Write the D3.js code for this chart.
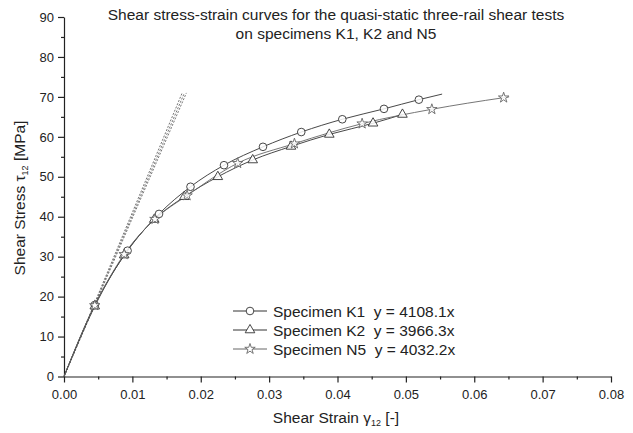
<!DOCTYPE html>
<html><head><meta charset="utf-8">
<script src="https://cdn.jsdelivr.net/npm/d3@7"></script>
<style>body{margin:0;background:#fff}svg{display:block;font-family:"Liberation Sans",Arial,sans-serif}</style>
</head><body><svg id="c" width="633" height="433"></svg>
<script>
const titleLines = ["Shear stress-strain curves for the quasi-static three-rail shear tests", "on specimens K1, K2 and N5"];
const xTicks = [0, 0.01, 0.02, 0.03, 0.04, 0.05, 0.06, 0.07, 0.08];
const yTicks = [0, 10, 20, 30, 40, 50, 60, 70, 80, 90];

const k1Strain = [0, 0.0045, 0.0093, 0.0139, 0.0185, 0.0234, 0.0291, 0.0347, 0.0407, 0.0468, 0.0519, 0.0553];
const k1Stress = [0, 17.9, 31.5, 40.7, 47.5, 52.9, 57.5, 61.2, 64.4, 67.0, 69.3, 70.7];
const k1Mark   = [0, 1, 1, 1, 1, 1, 1, 1, 1, 1, 1, 0];

const k2Strain = [0, 0.0045, 0.0088, 0.0132, 0.0176, 0.0225, 0.0276, 0.0332, 0.0388, 0.0452, 0.0495];
const k2Stress = [0, 17.6, 30.4, 39.3, 45.0, 50.0, 54.2, 57.6, 60.6, 63.4, 65.6];
const k2Mark   = [0, 1, 1, 1, 1, 1, 1, 1, 1, 1, 1];

const n5Strain = [0, 0.0045, 0.0088, 0.0133, 0.0180, 0.0254, 0.0337, 0.0436, 0.0538, 0.0643, 0.0651];
const n5Stress = [0, 17.8, 30.6, 39.4, 45.3, 53.4, 58.3, 63.3, 66.9, 69.8, 70.0];
const n5Mark   = [0, 1, 1, 1, 1, 1, 1, 1, 1, 1, 0];

const seriesNames = ["Specimen K1", "Specimen K2", "Specimen N5"];
const fitLabels = ["y = 4108.1x", "y = 3966.3x", "y = 4032.2x"];
const fitSlopes = [4108.1, 3966.3, 4032.2];
const fitEndStrain = [0.0173, 0.0179, 0.0176];

const svg = d3.select("#c");
const L = 64, R = 611, T = 17, B = 376.5;
const x = d3.scaleLinear().domain([0, 0.08]).range([L, R]);
const y = d3.scaleLinear().domain([0, 90]).range([B, T]);
const ink = "#222";
const FF = "Liberation Sans, Arial, sans-serif";

// axes
const xAxis = d3.axisBottom(x).tickValues(xTicks).tickFormat(d3.format(".2f")).tickSize(6).tickSizeOuter(0);
const gx = svg.append("g").attr("transform", `translate(0,${B})`).call(xAxis);
const yAxis = d3.axisLeft(y).tickValues(yTicks).tickFormat(d3.format("d")).tickSize(6).tickSizeOuter(0);
const gy = svg.append("g").attr("transform", `translate(${L},0)`).call(yAxis);
// minor ticks
const xMinor = d3.range(0.005, 0.08, 0.01);
const yMinor = d3.range(5, 90, 10);
svg.append("g").attr("transform", `translate(0,${B})`).call(d3.axisBottom(x).tickValues(xMinor).tickSize(3).tickFormat("").tickSizeOuter(0)).select(".domain").remove();
svg.append("g").attr("transform", `translate(${L},0)`).call(d3.axisLeft(y).tickValues(yMinor).tickSize(3).tickFormat("").tickSizeOuter(0)).select(".domain").remove();
svg.selectAll(".domain, .tick line").attr("stroke", ink).attr("stroke-width", 1.2);
gx.selectAll(".tick text").attr("font-size", 13).attr("fill", ink).attr("dy", "1em").attr("font-family", FF);
gy.selectAll(".tick text").attr("font-size", 13).attr("fill", ink).attr("font-family", FF).attr("x", -10);

// title
svg.append("g").selectAll("text").data(titleLines).join("text")
  .attr("x", 336).attr("y", (d, i) => 20 + i * 19).attr("text-anchor", "middle")
  .attr("font-size", 15.5).attr("font-family", FF).attr("fill", ink).text(d => d);

// axis labels
const xl = svg.append("text").attr("x", 336).attr("y", 423).attr("text-anchor", "middle").attr("font-size", 15.5).attr("font-family", FF).attr("fill", ink);
xl.append("tspan").text("Shear Strain ");
xl.append("tspan").text("γ");
xl.append("tspan").attr("font-size", 9).attr("dy", 3).text("12");
xl.append("tspan").attr("dy", -3).text(" [-]");
const yl = svg.append("text").attr("transform", "translate(25,198) rotate(-90)").attr("text-anchor", "middle").attr("font-size", 15.5).attr("font-family", FF).attr("fill", ink);
yl.append("tspan").text("Shear Stress ");
yl.append("tspan").text("τ");
yl.append("tspan").attr("font-size", 9).attr("dy", 3).text("12");
yl.append("tspan").attr("dy", -3).text(" [MPa]");

// fit lines
fitSlopes.forEach((s, i) => {
  svg.append("path").datum([[0, 0], [fitEndStrain[i], s * fitEndStrain[i]]])
    .attr("d", d3.line().x(d => x(d[0])).y(d => y(d[1])))
    .attr("fill", "none").attr("stroke", "#666").attr("stroke-width", 0.9).attr("stroke-dasharray", "2,1.5");
});

const series = [
  {strain: k1Strain, stress: k1Stress, mark: k1Mark, sym: d3.symbolCircle, size: 46, color: "#333"},
  {strain: k2Strain, stress: k2Stress, mark: k2Mark, sym: d3.symbolTriangle, size: 40, color: "#333"},
  {strain: n5Strain, stress: n5Stress, mark: n5Mark, sym: d3.symbolStar, size: 34, color: "#666"}
];
const line = d3.line().x(d => x(d[0])).y(d => y(d[1])).curve(d3.curveMonotoneX);
series.forEach(s => {
  const pts = s.strain.map((v, i) => [v, s.stress[i], s.mark[i]]);
  svg.append("path").datum(pts).attr("d", line).attr("fill", "none").attr("stroke", s.color).attr("stroke-width", 0.9);
});
series.forEach(s => {
  const pts = s.strain.map((v, i) => [v, s.stress[i], s.mark[i]]).filter(d => d[2]);
  svg.append("g").selectAll("path").data(pts).join("path")
    .attr("transform", d => `translate(${x(d[0])},${y(d[1])})`)
    .attr("d", d3.symbol().type(s.sym).size(s.size))
    .attr("fill", "#fff").attr("fill-opacity", 0.85).attr("stroke", s.color).attr("stroke-width", 0.9);
});

// legend
const lg = svg.append("g");
seriesNames.forEach((n, i) => {
  const yy = 311 + i * 19;
  lg.append("line").attr("x1", 233).attr("x2", 267).attr("y1", yy).attr("y2", yy).attr("stroke", series[i].color).attr("stroke-width", 1);
  lg.append("path").attr("transform", `translate(250,${yy})`).attr("d", d3.symbol().type(series[i].sym).size(series[i].size))
    .attr("fill", "#fff").attr("stroke", series[i].color).attr("stroke-width", 0.9);
  lg.append("text").attr("x", 273).attr("y", yy + 5.5).attr("font-size", 15.5).attr("font-family", FF).attr("fill", ink).text(n + "\u00a0\u00a0" + fitLabels[i]);
});
</script></body></html>
